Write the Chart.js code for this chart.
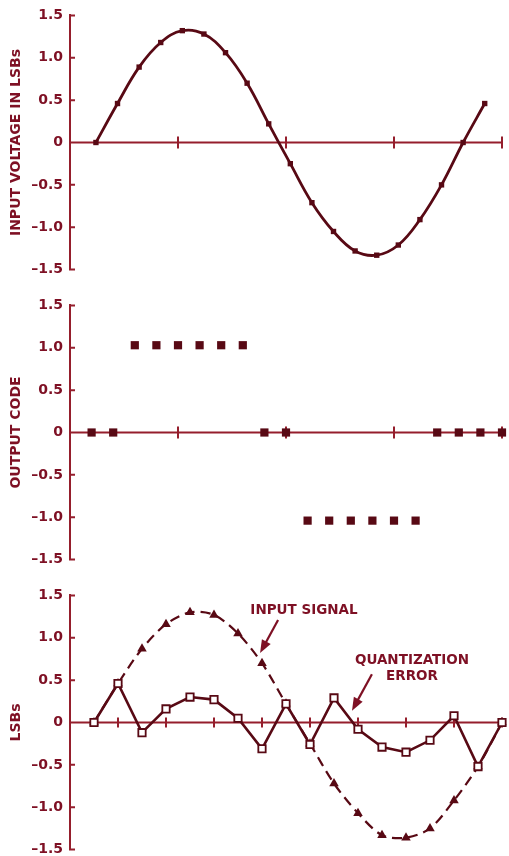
<!DOCTYPE html>
<html>
<head>
<meta charset="utf-8">
<script src="https://cdn.jsdelivr.net/npm/chart.js@4.4.1/dist/chart.umd.min.js"></script>
<style>
  html, body { margin: 0; padding: 0; background: #fff; overflow: hidden; }
  canvas { position: absolute; left: 0; }
</style>
</head>
<body>
<canvas id="inputChart" width="509" height="285" style="top:0px"></canvas>
<canvas id="codeChart" width="509" height="285" style="top:290px"></canvas>
<canvas id="errorChart" width="509" height="285" style="top:580px"></canvas>
<script>
// sample times (x axis, 0..4) and values
let inputTimes = [0.24, 0.44, 0.64, 0.84, 1.04, 1.24, 1.44, 1.64, 1.84, 2.04, 2.24, 2.44, 2.64, 2.84, 3.04, 3.24, 3.44, 3.64, 3.84]
let inputVoltage = [0, 0.46, 0.89, 1.18, 1.32, 1.28, 1.06, 0.70, 0.22, -0.25, -0.71, -1.05, -1.28, -1.33, -1.21, -0.91, -0.50, 0, 0.46]

let codeTimes = [0.2, 0.4, 0.6, 0.8, 1.0, 1.2, 1.4, 1.6, 1.8, 2.0, 2.2, 2.4, 2.6, 2.8, 3.0, 3.2, 3.4, 3.6, 3.8, 4.0]
let outputCode = [0, 0, 1.03, 1.03, 1.03, 1.03, 1.03, 1.03, 0, 0, -1.04, -1.04, -1.04, -1.04, -1.04, -1.04, 0, 0, 0, 0]

let sampleIndex = [1, 2, 3, 4, 5, 6, 7, 8, 9, 10, 11, 12, 13, 14, 15, 16, 17, 18]
let inputSignal = [0, 0.46, 0.87, 1.16, 1.30, 1.27, 1.05, 0.70, 0.22, -0.25, -0.72, -1.07, -1.33, -1.36, -1.25, -0.92, -0.52, 0]
let quantError = [0, 0.46, -0.12, 0.16, 0.30, 0.27, 0.05, -0.31, 0.22, -0.26, 0.29, -0.08, -0.29, -0.35, -0.21, 0.08, -0.52, 0]

let topTicks = [1, 2, 3, 4]
let bottomTicks = [2, 4, 6, 8, 10, 12, 14, 16, 18]
let yTickValues = [-1.5, -1, -0.5, 0, 0.5, 1, 1.5]

const AXIS = '#951e2c'
const TEXT = '#7e1024'
const DARK = '#580914'
const FONT = 'DejaVu Sans'

function fmtTick(v) {
    if (v === 0) return '0'
    return (v < 0 ? '\u2013' : '') + Math.abs(v).toFixed(1)
}

function toPoints(xs, ys) {
    return xs.map((x, i) => ({ x: x, y: ys[i] }))
}

// zero line with crossing ticks, and short inward ticks on the y axis
const axisMarks = {
    id: 'axisMarks',
    beforeDatasetsDraw(chart, args, opts) {
        const { ctx, chartArea } = chart
        const x = chart.scales.x, y = chart.scales.y
        const y0 = y.getPixelForValue(0)
        ctx.save()
        ctx.strokeStyle = AXIS
        ctx.lineWidth = 2
        ctx.beginPath()
        ctx.moveTo(chartArea.left, y0)
        ctx.lineTo(x.getPixelForValue(x.max), y0)
        opts.ticks.forEach(t => {
            const px = x.getPixelForValue(t)
            ctx.moveTo(px, y0 - opts.tickSize)
            ctx.lineTo(px, y0 + opts.tickSize)
        })
        yTickValues.forEach(v => {
            const py = y.getPixelForValue(v)
            ctx.moveTo(chartArea.left - 1, py)
            ctx.lineTo(chartArea.left + 5, py)
        })
        ctx.stroke()
        ctx.restore()
    }
}

// labels and arrows of the bottom panel
const callouts = {
    id: 'callouts',
    afterDraw(chart, args, opts) {
        if (!opts.items) return
        const { ctx } = chart
        const x = chart.scales.x, y = chart.scales.y
        ctx.save()
        ctx.fillStyle = TEXT
        ctx.strokeStyle = TEXT
        ctx.font = `bold 13.5px "${FONT}"`
        ctx.textAlign = 'center'
        ctx.textBaseline = 'middle'
        opts.items.forEach(item => {
            item.text.forEach((line, i) => {
                ctx.fillText(line, x.getPixelForValue(item.tx), y.getPixelForValue(item.ty) + i * 16)
            })
            const x1 = x.getPixelForValue(item.from[0]), y1 = y.getPixelForValue(item.from[1])
            const x2 = x.getPixelForValue(item.to[0]), y2 = y.getPixelForValue(item.to[1])
            const ang = Math.atan2(y2 - y1, x2 - x1)
            ctx.lineWidth = 2.2
            ctx.beginPath()
            ctx.moveTo(x1, y1)
            ctx.lineTo(x2 - 8 * Math.cos(ang), y2 - 8 * Math.sin(ang))
            ctx.stroke()
            ctx.beginPath()
            ctx.moveTo(x2, y2)
            ctx.lineTo(x2 - 13 * Math.cos(ang) + 5 * Math.sin(ang), y2 - 13 * Math.sin(ang) - 5 * Math.cos(ang))
            ctx.lineTo(x2 - 13 * Math.cos(ang) - 5 * Math.sin(ang), y2 - 13 * Math.sin(ang) + 5 * Math.cos(ang))
            ctx.closePath()
            ctx.fill()
        })
        ctx.restore()
    }
}

function panelOptions(title, xMax, ticks, tickSize, items) {
    return {
        responsive: false,
        animation: false,
        events: [],
        layout: { padding: { top: 15, right: 7, bottom: 13, left: 0 } },
        plugins: {
            legend: { display: false },
            tooltip: { enabled: false },
            axisMarks: { ticks: ticks, tickSize: tickSize },
            callouts: { items: items }
        },
        scales: {
            x: { type: 'linear', display: false, min: 0, max: xMax },
            y: {
                type: 'linear', min: -1.5, max: 1.5,
                afterFit: s => { s.width = 70 },
                afterBuildTicks: s => { s.ticks = yTickValues.map(v => ({ value: v })) },
                border: { display: true, color: AXIS, width: 2 },
                grid: { display: false, drawTicks: false },
                ticks: {
                    color: TEXT, padding: 7,
                    font: { family: FONT, weight: 'bold', size: 14 },
                    callback: v => fmtTick(v)
                },
                title: {
                    display: true, text: title, color: TEXT,
                    font: { family: FONT, weight: 'bold', size: 14 },
                    padding: { top: 8, bottom: 0 }
                }
            }
        }
    }
}

new Chart(document.getElementById('inputChart').getContext('2d'), {
    type: 'line',
    data: {
        datasets: [{
            data: toPoints(inputTimes, inputVoltage),
            borderColor: DARK, borderWidth: 2.8, tension: 0.4, clip: false,
            pointStyle: 'rect', pointRadius: 3.8, pointBackgroundColor: DARK, pointBorderWidth: 0
        }]
    },
    options: panelOptions('INPUT VOLTAGE IN LSBs', 4, topTicks, 6),
    plugins: [axisMarks, callouts]
})

new Chart(document.getElementById('codeChart').getContext('2d'), {
    type: 'line',
    data: {
        datasets: [{
            data: toPoints(codeTimes, outputCode),
            showLine: false, clip: false,
            pointStyle: 'rect', pointRadius: 5.8, pointBackgroundColor: DARK, pointBorderWidth: 0
        }]
    },
    options: panelOptions('OUTPUT CODE', 4, topTicks, 6),
    plugins: [axisMarks, callouts]
})

new Chart(document.getElementById('errorChart').getContext('2d'), {
    type: 'line',
    data: {
        datasets: [{
            label: 'QUANTIZATION ERROR',
            data: toPoints(sampleIndex, quantError),
            borderColor: DARK, borderWidth: 2.6, tension: 0, clip: false,
            pointStyle: 'rect', pointRadius: 5.2, pointBackgroundColor: '#fff',
            pointBorderColor: DARK, pointBorderWidth: 1.8
        }, {
            label: 'INPUT SIGNAL',
            data: toPoints(sampleIndex, inputSignal),
            borderColor: DARK, borderWidth: 2.2, borderDash: [10, 6], tension: 0.3, clip: false,
            pointStyle: 'triangle', pointRadius: 5.5, pointBackgroundColor: DARK, pointBorderWidth: 0
        }]
    },
    options: panelOptions('LSBs', 18, bottomTicks, 5, [
        { text: ['INPUT SIGNAL'], tx: 9.75, ty: 1.32, from: [8.67, 1.21], to: [7.92, 0.82] },
        { text: ['QUANTIZATION', 'ERROR'], tx: 14.25, ty: 0.73, from: [12.58, 0.57], to: [11.75, 0.14] }
    ]),
    plugins: [axisMarks, callouts]
})
</script>
</body>
</html>
